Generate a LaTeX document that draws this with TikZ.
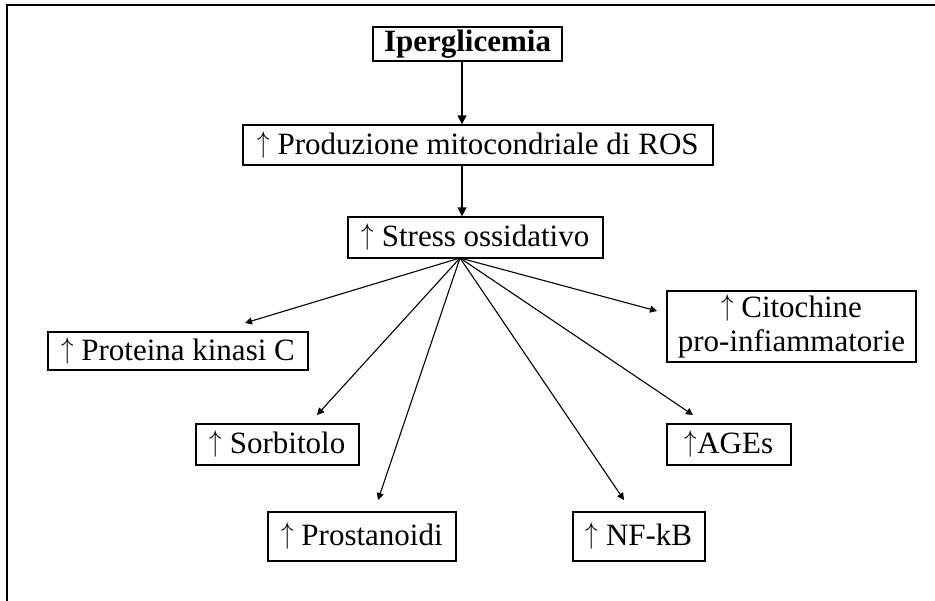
\documentclass[tikz,border=0pt]{standalone}
\usepackage{fontspec}
\setmainfont{Liberation Serif}
\usetikzlibrary{arrows.meta}
\tikzset{
  box/.style={draw=black, line width=1.4pt, inner sep=0pt, align=center,
    font=\fontsize{31}{34}\selectfont},
  vline/.style={line width=1.5pt, -{Triangle[length=9pt,width=9pt]}},
  fanline/.style={line width=1.1pt, -{Triangle[length=7pt,width=7pt]}},
}
\newcommand{\up}{\raisebox{0.06em}{\scalebox{1}[1.2]{$\uparrow$}}}
\begin{document}
\begin{tikzpicture}[x=1pt,y=-1pt]
\useasboundingbox (0,0) rectangle (935,601);
\draw[line width=1.5pt] (7,605) -- (7,5) -- (940,5);
% nodes
\node[box, minimum width=189pt, minimum height=34pt] (ip) at (467.5,44) {\textbf{Iperglicemia}};
\node[box, minimum width=470pt, minimum height=40pt] (ros) at (478,145) {\up\ Produzione mitocondriale di ROS};
\node[box, minimum width=255pt, minimum height=41pt] (st) at (475.5,237.5) {\up\ Stress ossidativo};
\node[box, minimum width=260pt, minimum height=38pt] (pkc) at (178,351) {\up\ Proteina kinasi C};
\node[box, minimum width=249pt, minimum height=71pt] (cit) at (791.5,326.5) {\up\ Citochine\\pro-infiammatorie};
\node[box, minimum width=163pt, minimum height=41pt] (sor) at (277.5,444.5) {\up\ Sorbitolo};
\node[box, minimum width=124pt, minimum height=41pt] (age) at (729,444.5) {\up AGEs};
\node[box, minimum width=188pt, minimum height=49pt] (pro) at (362,536.5) {\up\ Prostanoidi};
\node[box, minimum width=132pt, minimum height=49pt] (nf) at (639,536.5) {\up\ NF-kB};
% vertical arrows
\coordinate (a1) at (462,61);
\coordinate (a2) at (462,165);
\draw[vline] (a1) -- (a1 |- ros.north);
\draw[vline] (a2) -- (a2 |- st.north);
% fan
\coordinate (fan) at (460,258);
\coordinate (tpkc) at (245,323);
\coordinate (tsor) at (317,415);
\coordinate (tpro) at (378,500);
\coordinate (tnf) at (624,500);
\coordinate (tage) at (693,415);
\coordinate (tcit) at (657,311);
\draw[fanline] (fan) -- (tpkc);
\draw[fanline] (fan) -- (tsor);
\draw[fanline] (fan) -- (tpro);
\draw[fanline] (fan) -- (tnf);
\draw[fanline] (fan) -- (tage);
\draw[fanline] (fan) -- (tcit);
\end{tikzpicture}
\end{document}
